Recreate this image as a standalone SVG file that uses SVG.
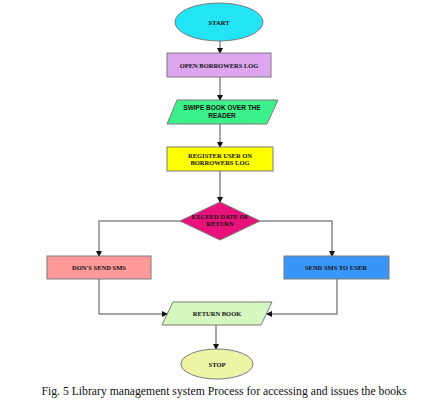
<svg xmlns="http://www.w3.org/2000/svg" width="436" height="404" viewBox="0 0 436 404">
<style>
.s{stroke:#7a7a7a;stroke-width:1}
.t{font-family:"Liberation Serif",serif;font-weight:bold;font-size:6.5px;text-anchor:middle;fill:#111}
.ta{font-family:"Liberation Sans",sans-serif;font-weight:bold;font-size:6.5px;text-anchor:middle;fill:#111}
.c{fill:none;stroke:#8a8a8a;stroke-width:1.5}
.cap{font-family:"Liberation Serif","Times New Roman",serif;font-size:12px;text-anchor:middle;fill:#111}
</style>
<defs>
<marker id="ah" markerWidth="6" markerHeight="6" refX="5" refY="3" orient="auto" markerUnits="userSpaceOnUse">
<path d="M0,0 L6,3 L0,6 z" fill="#111"/>
</marker>
</defs>
<rect width="436" height="404" fill="#fff"/>
<g id="connectors">
<path class="c" d="M220,41 V53" marker-end="url(#ah)"/>
<path class="c" d="M220,77 V100" marker-end="url(#ah)"/>
<path class="c" d="M220,124 V147" marker-end="url(#ah)"/>
<path class="c" d="M220,171 V202" marker-end="url(#ah)"/>
<path class="c" d="M180,221 H99 V256" marker-end="url(#ah)"/>
<path class="c" d="M260,221 H332 V256" marker-end="url(#ah)"/>
<path class="c" d="M99,279 V314 H167" marker-end="url(#ah)"/>
<path class="c" d="M337,279 V314 H267" marker-end="url(#ah)"/>
<path class="c" d="M216,325 V349" marker-end="url(#ah)"/>
</g>
<g id="start">
<ellipse cx="219" cy="22" rx="44" ry="19" fill="#22e4f4" class="s"/>
<text class="t" x="219" y="24.5">START</text>
</g>
<g id="open-log">
<rect x="167" y="53" width="104" height="24" fill="#dea6f0" class="s"/>
<text class="t" x="219" y="67.5">OPEN BORROWERS LOG</text>
</g>
<g id="swipe">
<polygon points="177,100 278,100 267,124 167,124" fill="#3cf08a" class="s"/>
<text class="ta" x="222" y="110">SWIPE BOOK OVER THE</text>
<text class="ta" x="222" y="118">READER</text>
</g>
<g id="register">
<rect x="167" y="147" width="106" height="24" fill="#ffff00" class="s"/>
<text class="t" x="220" y="157.5">REGISTER USER ON</text>
<text class="t" x="220" y="165">BORROWERS LOG</text>
</g>
<g id="decision">
<polygon points="220,202 260,221 220,240 180,221" fill="#e8137a" class="s"/>
<text class="t" x="220" y="219">EXCEED DATE OF</text>
<text class="t" x="220" y="226">RETURN</text>
</g>
<g id="dont-send">
<rect x="47" y="256" width="104" height="23" fill="#ff9a9a" class="s"/>
<text class="t" x="99" y="269.5">DON'S SEND SMS</text>
</g>
<g id="send-sms">
<rect x="284" y="256" width="105" height="23" fill="#3a95f8" class="s"/>
<text class="t" x="336" y="269.5">SEND SMS TO USER</text>
</g>
<g id="return-book">
<polygon points="173,302 272,302 261,325 162,325" fill="#d4f8c0" class="s"/>
<text class="t" x="217" y="316">RETURN BOOK</text>
</g>
<g id="stop">
<ellipse cx="217" cy="364" rx="36" ry="15" fill="#eef4a6" class="s"/>
<text class="t" x="217" y="366.5">STOP</text>
</g>
<text class="cap" x="224" y="395" textLength="365" lengthAdjust="spacingAndGlyphs">Fig. 5 Library management system Process for accessing and issues the books</text>
</svg>
